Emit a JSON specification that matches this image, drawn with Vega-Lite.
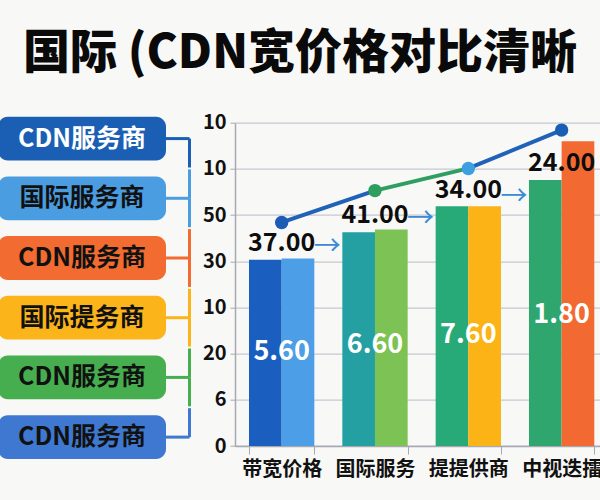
{
  "$schema": "https://vega.github.io/schema/vega-lite/v6.json",
  "width": 365,
  "height": 323.3,
  "autosize": {"type": "none"},
  "padding": {"left": 235, "top": 122.7, "right": 0, "bottom": 54},
  "background": "#f8f8f6",
  "config": {"view": {"stroke": null}, "font": "Noto Sans CJK SC"},
  "title": {
    "text": "国际 (CDN宽价格对比清晰",
    "fontSize": 47,
    "fontWeight": 900,
    "color": "#0a0a0a",
    "anchor": "middle",
    "frame": "group",
    "dx": -117.5,
    "offset": 35
  },
  "datasets": {
    "bars": [
      {"cat": "带宽价格", "sub": "A", "key": "b1", "level": 4.03},
      {"cat": "带宽价格", "sub": "B", "key": "b2", "level": 4.06},
      {"cat": "国际服务", "sub": "A", "key": "b3", "level": 4.63},
      {"cat": "国际服务", "sub": "B", "key": "b4", "level": 4.69},
      {"cat": "提提供商", "sub": "A", "key": "b5", "level": 5.19},
      {"cat": "提提供商", "sub": "B", "key": "b6", "level": 5.19},
      {"cat": "中视迭擂", "sub": "A", "key": "b7", "level": 5.76},
      {"cat": "中视迭擂", "sub": "B", "key": "b8", "level": 6.6}
    ],
    "trend": [
      {"seg": "s1", "cat": "带宽价格", "level": 4.84},
      {"seg": "s1", "cat": "国际服务", "level": 5.53},
      {"seg": "s2", "cat": "国际服务", "level": 5.53},
      {"seg": "s2", "cat": "提提供商", "level": 6.01},
      {"seg": "s3", "cat": "提提供商", "level": 6.01},
      {"seg": "s3", "cat": "中视迭擂", "level": 6.84}
    ],
    "dots": [
      {"cat": "带宽价格", "level": 4.84},
      {"cat": "国际服务", "level": 5.53},
      {"cat": "提提供商", "level": 6.01},
      {"cat": "中视迭擂", "level": 6.84}
    ],
    "topLabels": [
      {"cat": "带宽价格", "label": "37.00", "level": 4.39},
      {"cat": "国际服务", "label": "41.00", "level": 5.0},
      {"cat": "提提供商", "label": "34.00", "level": 5.54},
      {"cat": "中视迭擂", "label": "24.00", "level": 6.12}
    ],
    "arrows": [
      {"cat": "国际服务", "level": 4.31},
      {"cat": "提提供商", "level": 4.91},
      {"cat": "中视迭擂", "level": 5.4}
    ],
    "innerLabels": [
      {"cat": "带宽价格", "label": "5.60", "level": 2.04},
      {"cat": "国际服务", "label": "6.60", "level": 2.19},
      {"cat": "提提供商", "label": "7.60", "level": 2.4},
      {"cat": "中视迭擂", "label": "1.80", "level": 2.84}
    ],
    "providers": [
      {"key": 1, "label": "CDN服务商"},
      {"key": 2, "label": "国际服务商"},
      {"key": 3, "label": "CDN服务商"},
      {"key": 4, "label": "国际提务商"},
      {"key": 5, "label": "CDN服务商"},
      {"key": 6, "label": "CDN服务商"}
    ]
  },
  "layer": [
    {
      "resolve": {"scale": {"color": "independent"}},
      "layer": [
        {
          "data": {"name": "bars"},
          "mark": {"type": "bar"},
          "encoding": {
            "x": {
              "field": "cat",
              "type": "nominal",
              "sort": ["带宽价格", "国际服务", "提提供商", "中视迭擂"],
              "scale": {"paddingInner": 0.3, "paddingOuter": 0.15, "range": [0, 373.3]},
              "axis": {
                "title": null,
                "labelAngle": 0,
                "tickBand": "extent",
                "tickSize": 8,
                "tickColor": "#a6a8b2",
                "domainColor": "#a6a8b2",
                "domainWidth": 1.5,
                "labelFontSize": 20,
                "labelFontWeight": "bold",
                "labelColor": "#111111",
                "labelPadding": 5
              }
            },
            "xOffset": {"field": "sub", "type": "nominal", "scale": {"paddingInner": 0}},
            "y": {
              "field": "level",
              "type": "quantitative",
              "scale": {"domain": [0, 7], "nice": false},
              "axis": {
                "title": null,
                "values": [0, 1, 2, 3, 4, 5, 6, 7],
                "labelExpr": "['0','6','20','10','30','50','10','10'][datum.value]",
                "grid": true,
                "gridColor": "#c6c8d2",
                "gridWidth": 1.2,
                "domainColor": "#a6a8b2",
                "domainWidth": 1.5,
                "tickColor": "#a6a8b2",
                "tickSize": 5,
                "labelFontSize": 20,
                "labelFontWeight": "bold",
                "labelColor": "#111111",
                "labelPadding": 4
              }
            },
            "color": {
              "field": "key",
              "type": "nominal",
              "scale": {
                "domain": ["b1", "b2", "b3", "b4", "b5", "b6", "b7", "b8"],
                "range": ["#1a5fbf", "#4c9ee6", "#24a0a2", "#7cc254", "#28aa78", "#fbb316", "#2ea66e", "#f26a31"]
              },
              "legend": null
            }
          }
        },
        {
          "data": {"name": "trend"},
          "mark": {"type": "line", "strokeWidth": 4, "strokeCap": "round"},
          "encoding": {
            "x": {"field": "cat", "type": "nominal", "sort": ["带宽价格", "国际服务", "提提供商", "中视迭擂"]},
            "y": {"field": "level", "type": "quantitative"},
            "detail": {"field": "seg"},
            "color": {
              "field": "seg",
              "type": "nominal",
              "scale": {"domain": ["s1", "s2", "s3"], "range": ["#1f62b8", "#2e9e62", "#1f62b8"]},
              "legend": null
            }
          }
        },
        {
          "data": {"name": "dots"},
          "mark": {"type": "circle", "size": 180, "opacity": 1},
          "encoding": {
            "x": {"field": "cat", "type": "nominal", "sort": ["带宽价格", "国际服务", "提提供商", "中视迭擂"]},
            "y": {"field": "level", "type": "quantitative"},
            "color": {
              "field": "cat",
              "type": "nominal",
              "scale": {
                "domain": ["带宽价格", "国际服务", "提提供商", "中视迭擂"],
                "range": ["#1b5cb5", "#2e9e5e", "#3c9fe0", "#1b5cb5"]
              },
              "legend": null
            }
          }
        },
        {
          "data": {"name": "topLabels"},
          "mark": {"type": "text", "fontSize": 25, "fontWeight": "bold", "color": "#0d0d0d", "baseline": "middle"},
          "encoding": {
            "x": {"field": "cat", "type": "nominal", "sort": ["带宽价格", "国际服务", "提提供商", "中视迭擂"]},
            "y": {"field": "level", "type": "quantitative"},
            "text": {"field": "label"}
          }
        },
        {
          "data": {"name": "arrows"},
          "mark": {"type": "text", "text": "→", "fontSize": 27, "color": "#3a8ad6", "baseline": "middle"},
          "encoding": {
            "x": {"field": "cat", "type": "nominal", "sort": ["带宽价格", "国际服务", "提提供商", "中视迭擂"], "bandPosition": -0.23},
            "y": {"field": "level", "type": "quantitative"}
          }
        },
        {
          "data": {"name": "innerLabels"},
          "mark": {"type": "text", "fontSize": 27, "fontWeight": "bold", "color": "#ffffff", "baseline": "middle"},
          "encoding": {
            "x": {"field": "cat", "type": "nominal", "sort": ["带宽价格", "国际服务", "提提供商", "中视迭擂"]},
            "y": {"field": "level", "type": "quantitative"},
            "text": {"field": "label"}
          }
        }
      ]
    },
    {
      "data": {"name": "providers"},
      "encoding": {
        "y": {
          "field": "key",
          "type": "ordinal",
          "scale": {"range": [-6, 336.3], "paddingInner": 0.267, "paddingOuter": 0},
          "axis": null
        }
      },
      "layer": [
        {
          "mark": {"type": "bar", "cornerRadius": 10},
          "encoding": {
            "x": {"datum": 0, "type": "quantitative", "scale": {"domain": [0, 1], "range": [-237, -69]}, "axis": null},
            "x2": {"datum": 1},
            "color": {
              "field": "key",
              "type": "nominal",
              "scale": {"domain": [1, 2, 3, 4, 5, 6], "range": ["#1a5fb4", "#4a9de0", "#f26b30", "#fbb41a", "#47ae4f", "#3f78d0"]},
              "legend": null
            }
          }
        },
        {
          "mark": {"type": "rule", "strokeWidth": 3},
          "encoding": {
            "x": {"datum": 1, "type": "quantitative"},
            "x2": {"datum": 1.14},
            "y": {"field": "key", "type": "ordinal", "bandPosition": 0.5},
            "color": {"field": "key", "type": "nominal", "legend": null}
          }
        },
        {
          "transform": [{"filter": "datum.key < 6"}],
          "mark": {"type": "rule", "strokeWidth": 3},
          "encoding": {
            "x": {"datum": 1.14, "type": "quantitative"},
            "y": {"field": "key", "type": "ordinal", "bandPosition": 0.5},
            "y2": {"field": "key", "bandPosition": 1.161},
            "color": {"field": "key", "type": "nominal", "legend": null}
          }
        },
        {
          "transform": [{"filter": "datum.key > 1"}],
          "mark": {"type": "rule", "strokeWidth": 3},
          "encoding": {
            "x": {"datum": 1.14, "type": "quantitative"},
            "y": {"field": "key", "type": "ordinal", "bandPosition": -0.161},
            "y2": {"field": "key", "bandPosition": 0.5},
            "color": {"field": "key", "type": "nominal", "legend": null}
          }
        },
        {
          "mark": {"type": "text", "fontSize": 25, "fontWeight": "bold", "baseline": "middle"},
          "encoding": {
            "x": {"datum": 0.5, "type": "quantitative"},
            "y": {"field": "key", "type": "ordinal", "bandPosition": 0.5},
            "text": {"field": "label"},
            "color": {"condition": {"test": "datum.key == 1", "value": "#ffffff"}, "value": "#111111"}
          }
        }
      ]
    }
  ],
  "resolve": {"scale": {"x": "independent", "y": "independent", "color": "independent"}}
}
